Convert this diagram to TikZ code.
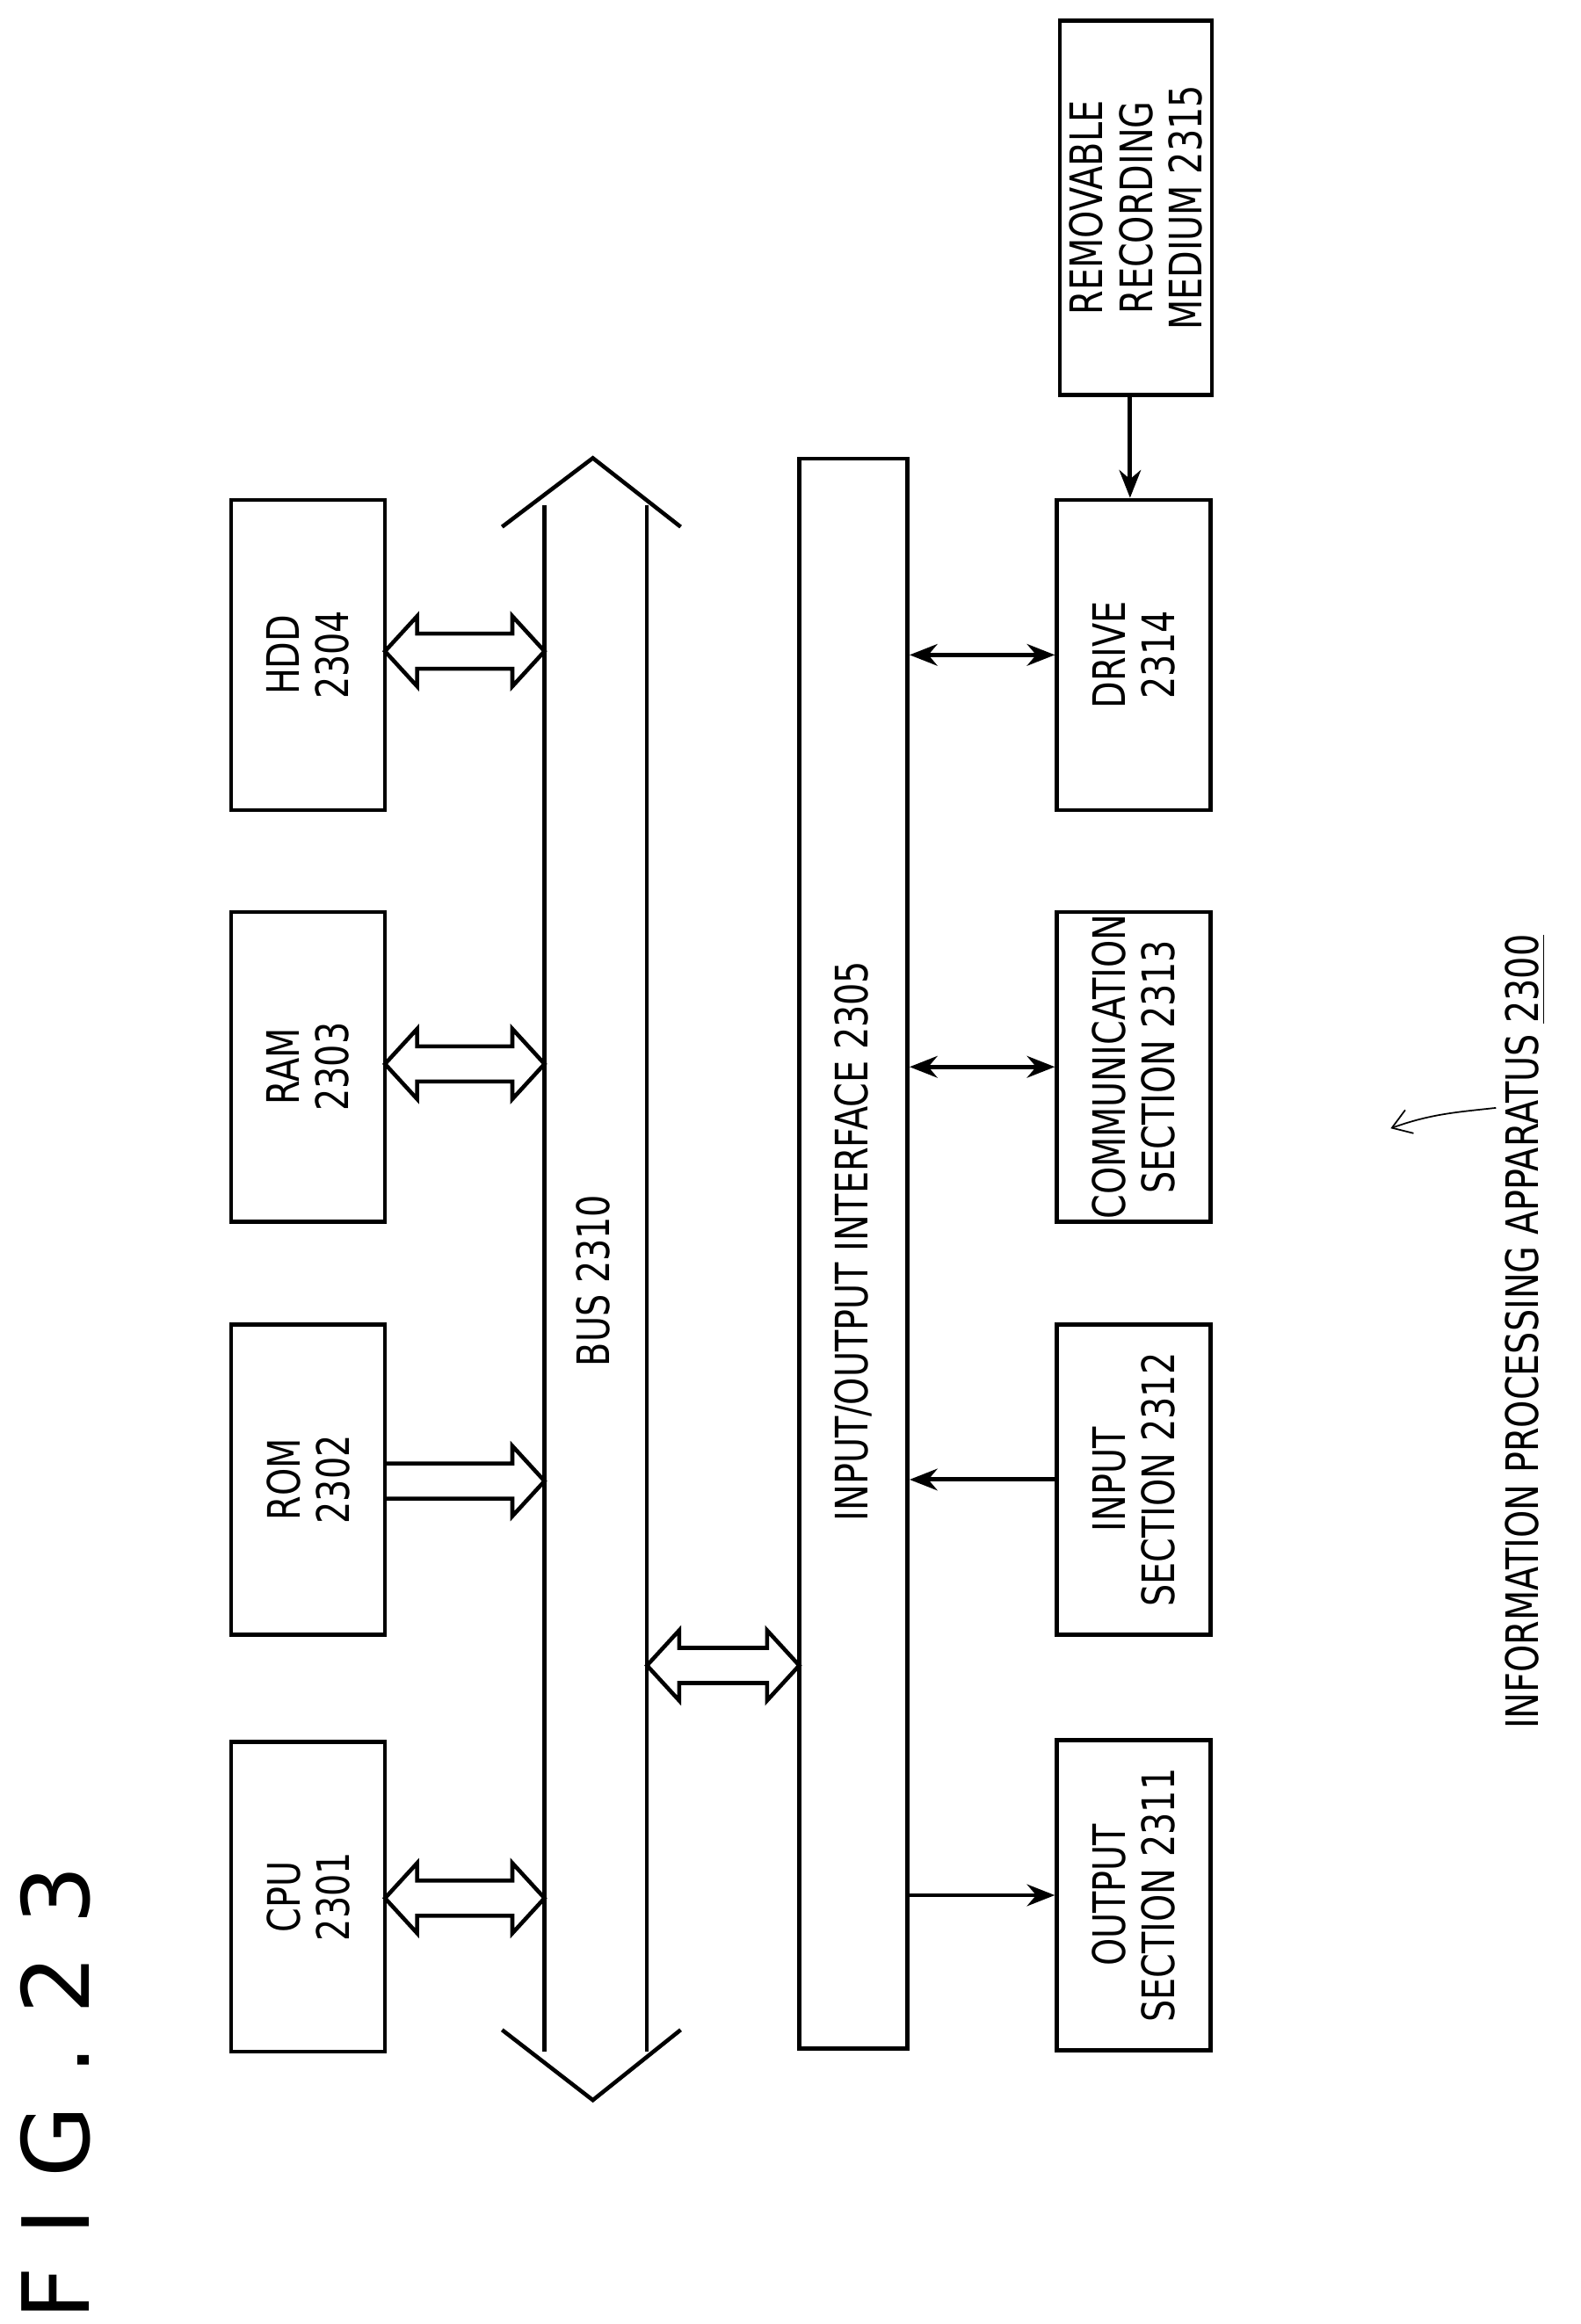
\documentclass[tikz,border=0pt]{standalone}
\usepackage{fontspec}
\setmainfont{DejaVu Sans}[FakeStretch=0.78]
\newfontfamily\figfont{DejaVu Sans}
\usetikzlibrary{arrows.meta}
\begin{document}
\begin{tikzpicture}[x=0.016657cm,y=-0.016657cm,line width=1.3pt,
  box/.style={draw,minimum width=1.749cm,minimum height=3.53cm,inner sep=0pt},
  lbl/.style={rotate=90,align=center,font=\fontsize{14.5}{16}\selectfont},
  thin/.style={line width=1.4pt,{Stealth[length=9pt,width=7pt]}-{Stealth[length=9pt,width=7pt]}},
  one/.style={line width=1.4pt,-{Stealth[length=9pt,width=7pt]}}]
\useasboundingbox (0,0) rectangle (1080,1588);
\newcommand\fatdbl[3]{\draw (#1,#3) -- ({#1+22},{#3-24}) -- ({#1+22},{#3-12}) -- ({#2-22},{#3-12}) -- ({#2-22},{#3-24}) -- (#2,#3) -- ({#2-22},{#3+24}) -- ({#2-22},{#3+12}) -- ({#1+22},{#3+12}) -- ({#1+22},{#3+24}) -- cycle;}
\newcommand\fatone[3]{\draw (#1,{#3-12}) -- ({#2-22},{#3-12}) -- ({#2-22},{#3-24}) -- (#2,#3) -- ({#2-22},{#3+24}) -- ({#2-22},{#3+12}) -- (#1,{#3+12});}
% left boxes
\node[box] (cpu) at (210.5,1296) {}; \node[lbl] at (cpu) {CPU\\2301};
\node[box] (rom) at (210.5,1011) {}; \node[lbl] at (rom) {ROM\\2302};
\node[box] (ram) at (210.5,729) {}; \node[lbl] at (ram) {RAM\\2303};
\node[box] (hdd) at (210.5,447.5) {}; \node[lbl] at (hdd) {HDD\\2304};
% bus
\draw (372,345) -- (372,1402);
\draw (442,345) -- (442,1402);
\draw (343,360) -- (405,313) -- (465,360);
\draw (343,1387) -- (405,1435) -- (465,1387);
\node[lbl] (bus) at (405,875) {BUS 2310};
% IO
\node[draw,minimum width=1.233cm,minimum height=18.1cm,inner sep=0pt] (io) at (583,856.5) {};
\node[lbl] at (583,848) {INPUT/OUTPUT INTERFACE 2305};
% fat arrows
\fatdbl{263}{372}{1297}
\fatone{263}{372}{1012}
\fatdbl{263}{372}{727}
\fatdbl{263}{372}{445}
\fatdbl{442}{546}{1138}
% right boxes
\node[box] (out) at (774.5,1295) {}; \node[lbl] at (out) {OUTPUT\\SECTION 2311};
\node[box] (inp) at (774.5,1011) {}; \node[lbl] at (inp) {INPUT\\SECTION 2312};
\node[box] (com) at (774.5,729) {}; \node[lbl] at (com) {COMMUNICATION\\SECTION 2313};
\node[box] (drv) at (774.5,447.5) {}; \node[lbl] at (drv) {DRIVE\\2314};
\node[draw,minimum width=1.733cm,minimum height=4.26cm,inner sep=0pt] (rem) at (776,142) {};
\node[lbl] at (rem) {REMOVABLE\\RECORDING\\MEDIUM 2315};
\draw[one] (io.east |- out) -- (out.west);
\draw[one] (inp.west) -- (io.east |- inp);
\draw[thin] (io.east |- com) -- (com.west);
\draw[thin] (io.east |- drv) -- (drv.west);
\draw[one] (rem.south -| 772,0) -- (drv.north -| 772,0);
% label
\node[lbl] (info) at (1042,910) {INFORMATION PROCESSING APPARATUS \underline{2300}};
\draw[line width=0.5pt,-{Straight Barb[length=6pt,width=8pt]}] (1022,757) .. controls (995,760) and (978,761) .. (950,771);
\node[rotate=90,font=\figfont\fontsize{30}{32}\selectfont] (fig) at (38,1430) {F\,\,I\,\,G\,\,.\,\,2\,\,3};
\end{tikzpicture}
\end{document}
